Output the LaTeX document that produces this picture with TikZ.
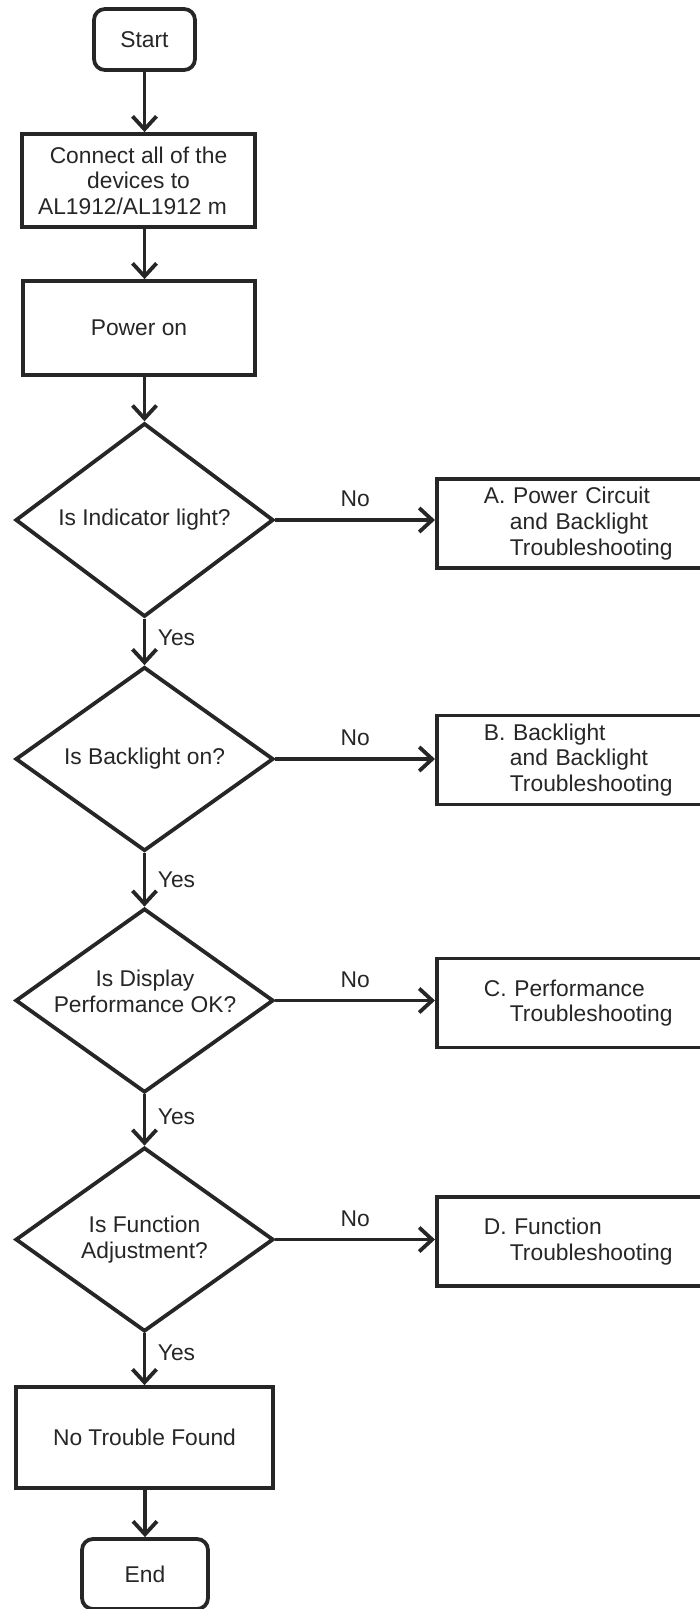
\documentclass[tikz,border=0pt]{standalone}
\usepackage{fontspec}
\setmainfont{Liberation Sans}
\usetikzlibrary{arrows.meta,shapes.geometric}
\definecolor{ink}{HTML}{262626}
\begin{document}
\begin{tikzpicture}[x=1pt,y=-1pt,
  every node/.style={font=\fontsize{22.8}{25.6}\selectfont, text=ink},
  base/.style={draw=ink, line width=3.8pt, inner sep=0pt},
  term/.style={base, rectangle, rounded corners=11pt},
  proc/.style={base, rectangle, align=center},
  dec/.style={base, diamond, minimum width=258pt, minimum height=184pt, align=center},
  side/.style={base, rectangle, anchor=west, minimum height=89pt, text width=200pt, inner xsep=47pt, align=left},
  arr/.style={draw=ink, line width=3.8pt, -{Straight Barb[length=13pt,width=24pt]}},
  lbl/.style={inner sep=0pt}
]
\useasboundingbox (0,0) rectangle (699,1609);

\node[term, minimum width=101pt, minimum height=61pt] (start) at (144.5,39.5) {Start};
\node[proc, minimum width=233pt, minimum height=93pt] (connect) at (138.5,180.5)
  {Connect all of the\\devices to\\AL1912/AL1912 m\hspace*{12pt}};
\node[proc, minimum width=232pt, minimum height=94pt] (power) at (139,328) {Power on};

\node[dec] (d1) at (144.5,520) {Is Indicator light?};
\node[dec] (d2) at (144.5,759) {Is Backlight on?};
\node[dec] (d3) at (144.5,1000.5) {};
\node[lbl, align=center] (d3t) at (145,991.5) {Is Display\\Performance OK?};
\node[dec] (d4) at (144.5,1239.5) {Is Function\\Adjustment?};

\node[side] (sa) at (435,523.5) {A. Power Circuit\\\hspace*{26pt}and Backlight\\\hspace*{26pt}Troubleshooting};
\node[side] (sb) at (435,760) {B. Backlight\\\hspace*{26pt}and Backlight\\\hspace*{26pt}Troubleshooting};
\node[side] (sc) at (435,1003) {C. Performance\\\hspace*{26pt}Troubleshooting};
\node[side] (sd) at (435,1241.5) {D. Function\\\hspace*{26pt}Troubleshooting};

\node[proc, minimum width=257pt, minimum height=101pt] (ntf) at (144.5,1437.5) {No Trouble Found};
\node[term, minimum width=126pt, minimum height=70pt] (stop) at (145,1574) {End};

\draw[arr] (start) -- (start |- connect.north);
\draw[arr] (connect.south -| start) -- (start |- power.north);
\draw[arr] (power.south -| d1) -- (d1.north);

\draw[arr] (d1.east) -- node[lbl, midway, yshift=21pt] (no1) {No} (d1.east -| sa.west);
\draw[arr] (d2.east) -- node[lbl, midway, yshift=21pt] (no2) {No} (d2.east -| sb.west);
\draw[arr] (d3.east) -- node[lbl, midway, yshift=21pt] (no3) {No} (d3.east -| sc.west);
\draw[arr] (d4.east) -- node[lbl, midway, yshift=21pt] (no4) {No} (d4.east -| sd.west);

\draw[arr] (d1.south) -- node[lbl, midway, xshift=32pt, yshift=4pt] (y1) {Yes} (d2.north);
\draw[arr] (d2.south) -- node[lbl, midway, xshift=32pt, yshift=0pt] (y2) {Yes} (d3.north);
\draw[arr] (d3.south) -- node[lbl, midway, xshift=32pt, yshift=3pt] (y3) {Yes} (d4.north);
\draw[arr] (d4.south) -- node[lbl, midway, xshift=32pt, yshift=6pt] (y4) {Yes} (d4.south |- ntf.north);
\draw[arr] (ntf.south -| stop) -- (stop.north);
\end{tikzpicture}
\end{document}
